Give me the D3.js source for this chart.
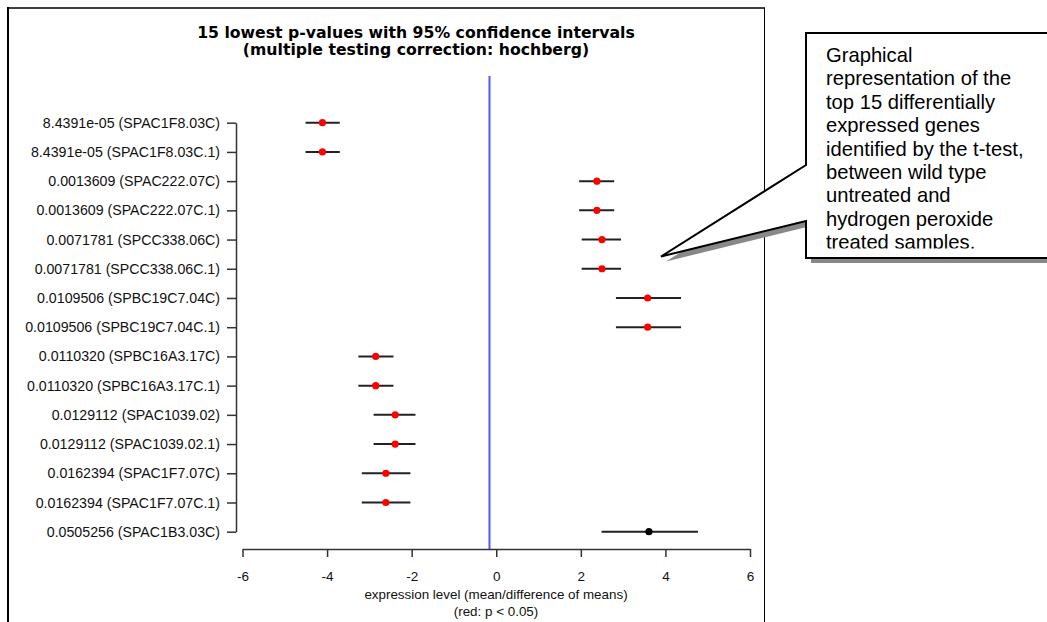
<!DOCTYPE html>
<html>
<head>
<meta charset="utf-8">
<script src="https://cdn.jsdelivr.net/npm/d3@7"></script>
<style>
  body { margin: 0; background: #fff; }
  svg { display: block; }
  .axis path, .axis line { stroke: #333; stroke-width: 1.5; }
  .axis text { font-family: "Liberation Sans", Arial, sans-serif; fill: #111; }
</style>
</head>
<body>
<div id="chart"></div>
<script>
// Data
var labels = [
  "8.4391e-05 (SPAC1F8.03C)", "8.4391e-05 (SPAC1F8.03C.1)",
  "0.0013609 (SPAC222.07C)", "0.0013609 (SPAC222.07C.1)",
  "0.0071781 (SPCC338.06C)", "0.0071781 (SPCC338.06C.1)",
  "0.0109506 (SPBC19C7.04C)", "0.0109506 (SPBC19C7.04C.1)",
  "0.0110320 (SPBC16A3.17C)", "0.0110320 (SPBC16A3.17C.1)",
  "0.0129112 (SPAC1039.02)", "0.0129112 (SPAC1039.02.1)",
  "0.0162394 (SPAC1F7.07C)", "0.0162394 (SPAC1F7.07C.1)",
  "0.0505256 (SPAC1B3.03C)"
];
var pValues = [8.4391e-05, 8.4391e-05, 0.0013609, 0.0013609, 0.0071781, 0.0071781,
  0.0109506, 0.0109506, 0.0110320, 0.0110320, 0.0129112, 0.0129112,
  0.0162394, 0.0162394, 0.0505256];
var means = [-4.11, -4.11, 2.38, 2.38, 2.50, 2.50, 3.58, 3.58, -2.85, -2.85, -2.39, -2.39, -2.61, -2.61, 3.61];
var lower = [-4.51, -4.51, 1.96, 1.96, 2.02, 2.02, 2.83, 2.83, -3.26, -3.26, -2.90, -2.90, -3.18, -3.18, 2.49];
var upper = [-3.70, -3.70, 2.79, 2.79, 2.95, 2.95, 4.37, 4.37, -2.43, -2.43, -1.91, -1.91, -2.03, -2.03, 4.77];
var xTicks = [-6, -4, -2, 0, 2, 4, 6];
var refLine = -0.16;

var titleLines = ["15 lowest p-values with 95% confidence intervals",
                  "(multiple testing correction: hochberg)"];
var xTitleLines = ["expression level (mean/difference of means)", "(red: p < 0.05)"];
var noteLines = ["Graphical", "representation of the", "top 15 differentially",
  "expressed genes", "identified by the t-test,", "between wild type",
  "untreated and", "hydrogen peroxide", "treated samples."];

var svgWidth = 1047;
var svgHeight = 622;

var svg = d3.select("#chart").append("svg")
  .attr("width", svgWidth)
  .attr("height", svgHeight);

// frame of the plot picture
svg.append("line").attr("x1", 8).attr("x2", 8).attr("y1", 7).attr("y2", 622)
  .attr("stroke", "#000").attr("stroke-width", 2);
svg.append("line").attr("x1", 7).attr("x2", 765).attr("y1", 8).attr("y2", 8)
  .attr("stroke", "#000").attr("stroke-width", 1.5);
svg.append("line").attr("x1", 764.5).attr("x2", 764.5).attr("y1", 8).attr("y2", 622)
  .attr("stroke", "#000").attr("stroke-width", 1);

var rows = labels.map(function(l, i) {
  return { label: l, p: pValues[i], mean: means[i], lo: lower[i], hi: upper[i] };
});

// scales
var x = d3.scaleLinear().domain([-6, 6]).range([242.5, 750]);
var y = d3.scalePoint().domain(labels).range([122.7, 531.7]);

// title
svg.append("g").selectAll("text")
  .data(titleLines).enter().append("text")
  .attr("x", 416)
  .attr("y", function(d, i) { return 37.5 + i * 17; })
  .attr("text-anchor", "middle")
  .attr("font-family", "'DejaVu Sans', Verdana, sans-serif")
  .attr("font-weight", "bold")
  .attr("font-size", "15.7px")
  .attr("fill", "#000")
  .text(function(d) { return d; });

// blue reference line
svg.append("line")
  .attr("x1", x(refLine)).attr("x2", x(refLine))
  .attr("y1", 76).attr("y2", 549)
  .attr("stroke", "#5555ff").attr("stroke-width", 2);

// axes
svg.append("g")
  .attr("class", "axis")
  .attr("transform", "translate(0,549)")
  .call(d3.axisBottom(x).tickValues(xTicks).tickSize(8).tickSizeOuter(0).tickPadding(14)
    .tickFormat(function(d) { return String(d); }))
  .selectAll("text").attr("font-size", "13.5px");

svg.append("g")
  .attr("class", "axis")
  .attr("transform", "translate(236,0)")
  .call(d3.axisLeft(y).tickSize(9).tickSizeOuter(0).tickPadding(7))
  .selectAll("text").attr("font-size", "14.2px");

// x axis title
svg.append("g").selectAll("text")
  .data(xTitleLines).enter().append("text")
  .attr("x", 496)
  .attr("y", function(d, i) { return 599 + i * 17; })
  .attr("text-anchor", "middle")
  .attr("font-family", "'Liberation Sans', Arial, sans-serif")
  .attr("font-size", "13.4px")
  .attr("fill", "#111")
  .text(function(d) { return d; });

// confidence intervals
svg.append("g").selectAll("line")
  .data(rows).enter().append("line")
  .attr("x1", function(d) { return x(d.lo); })
  .attr("x2", function(d) { return x(d.hi); })
  .attr("y1", function(d) { return y(d.label); })
  .attr("y2", function(d) { return y(d.label); })
  .attr("stroke", "#222")
  .attr("stroke-width", 2);

svg.append("g").selectAll("circle")
  .data(rows).enter().append("circle")
  .attr("cx", function(d) { return x(d.mean); })
  .attr("cy", function(d) { return y(d.label); })
  .attr("r", 3.6)
  .attr("fill", function(d) { return d.p < 0.05 ? "#ff0000" : "#000"; });

// callout box with pointer
var callout = "M806,165 L806,33 L1060,33 L1060,258 L806,258 L806,221 L661,256.5 Z";
svg.append("path").attr("d", callout)
  .attr("transform", "translate(5,5)")
  .attr("fill", "#888");
svg.append("path").attr("d", callout)
  .attr("fill", "#fff")
  .attr("stroke", "#000")
  .attr("stroke-width", 2)
  .attr("stroke-linejoin", "miter");

svg.append("clipPath").attr("id", "noteClip")
  .append("rect").attr("x", 810).attr("y", 36).attr("width", 240).attr("height", 212.5);

svg.append("g").attr("clip-path", "url(#noteClip)")
  .selectAll("text")
  .data(noteLines).enter().append("text")
  .attr("x", 826)
  .attr("y", function(d, i) { return 62 + i * 23.4; })
  .attr("font-family", "'Liberation Sans', Arial, sans-serif")
  .attr("font-size", "20.2px")
  .attr("fill", "#000")
  .text(function(d) { return d; });
</script>
</body>
</html>
